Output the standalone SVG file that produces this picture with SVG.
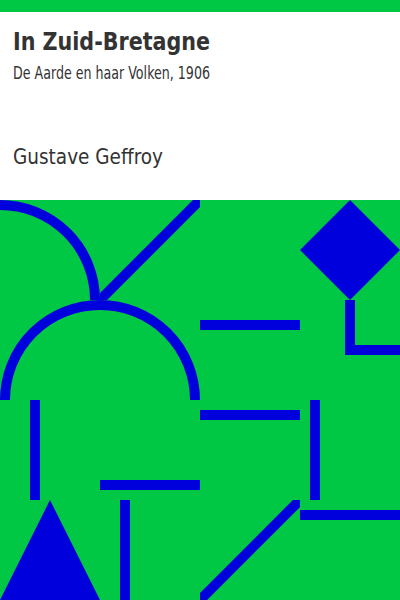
<svg xmlns="http://www.w3.org/2000/svg" width="400" height="600" viewBox="0 0 400 600">
  <defs>
    <style>
      .bg { fill: #00c844; }
      .blue { fill: #0000dd; }
      .stroke { fill: none; stroke: #0000dd; stroke-width: 10; }
      .diag { fill: none; stroke: #0000dd; stroke-width: 10; stroke-linecap: square; }
      .txt { fill: #333333; font-family: 'DejaVu Sans Condensed', 'DejaVu Sans', sans-serif; font-stretch: condensed; }
    </style>
    <clipPath id="c1"><rect x="100" y="200" width="100" height="100"/></clipPath>
    <clipPath id="c2"><rect x="200" y="500" width="100" height="100"/></clipPath>
  </defs>
  <rect x="0" y="0" width="400" height="600" fill="#ffffff"/>
  <rect id="topbar" class="bg" x="0" y="0" width="400" height="12"/>
  <g id="texts">
    <text id="title" class="txt" x="13" y="50" font-size="25" font-weight="bold" textLength="197" lengthAdjust="spacingAndGlyphs">In Zuid-Bretagne</text>
    <text id="subtitle" class="txt" x="13" y="79" font-size="17" textLength="197" lengthAdjust="spacingAndGlyphs">De Aarde en haar Volken, 1906</text>
    <text id="author" class="txt" x="13" y="164" font-size="21" textLength="150" lengthAdjust="spacingAndGlyphs">Gustave Geffroy</text>
  </g>
  <g id="pattern">
    <rect class="bg" x="0" y="200" width="400" height="400"/>
    <path class="stroke" d="M0,205 A95,95 0 0 1 95,300"/>
    <g clip-path="url(#c1)"><line class="diag" x1="100" y1="300" x2="200" y2="200"/></g>
    <path class="stroke" d="M5,400 A95,95 0 0 1 195,400"/>
    <rect class="blue" x="200" y="320" width="100" height="10"/>
    <polygon class="blue" points="350,200 400,250 350,300 300,250"/>
    <path class="blue" d="M345,300 H355 V345 H400 V355 H345 Z"/>
    <rect class="blue" x="200" y="410" width="100" height="10"/>
    <rect class="blue" x="310" y="400" width="10" height="100"/>
    <rect class="blue" x="30" y="400" width="10" height="100"/>
    <rect class="blue" x="100" y="480" width="100" height="10"/>
    <rect class="blue" x="120" y="500" width="10" height="100"/>
    <polygon class="blue" points="50,500 100,600 0,600"/>
    <g clip-path="url(#c2)"><line class="diag" x1="200" y1="600" x2="300" y2="500"/></g>
    <rect class="blue" x="300" y="510" width="100" height="10"/>
  </g>
</svg>
